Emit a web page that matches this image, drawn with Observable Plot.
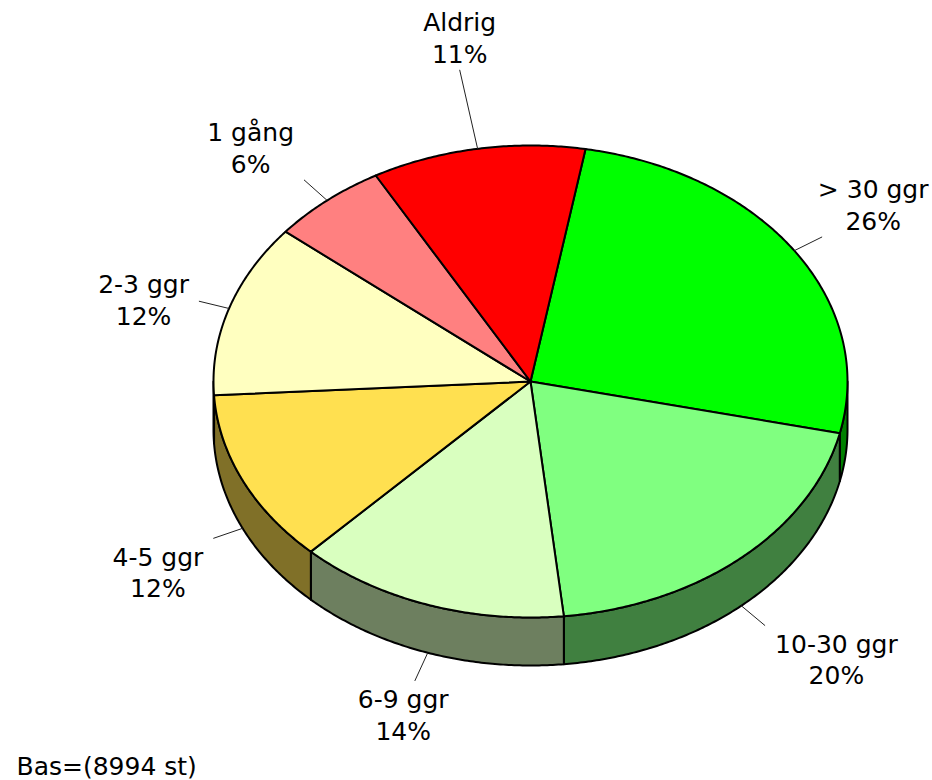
<!DOCTYPE html>
<html>
<head>
<meta charset="utf-8">
<script src="https://cdn.jsdelivr.net/npm/d3@7"></script>
<script src="https://cdn.jsdelivr.net/npm/@observablehq/plot@0.6"></script>
<style>
  html, body { margin: 0; padding: 0; background: #fff; }
  #chart svg { display: block; }
</style>
</head>
<body>
<div id="chart"></div>
<script>
// ---- Data ----
const categories = ["> 30 ggr", "10-30 ggr", "6-9 ggr", "4-5 ggr", "2-3 ggr", "1 gång", "Aldrig"];
const percents   = [26, 20, 14, 12, 12, 6, 11];
const topColors  = ["#00FF00", "#80FF80", "#D9FFBF", "#FFE050", "#FFFFC0", "#FF8080", "#FF0000"];
const sideColors = ["#008000", "#408040", "#6D7F5F", "#807028", "#80805F", "#804040", "#800000"];
const baseNote   = "Bas=(8994 st)";

// ---- Layout ----
const W = 932, H = 780;
const CX = 530, CY = 381, RX = 317, RY = 236, DEPTH = 48;
const START_DEG = 10;
const FONT = "DejaVu Sans", FS = 25, LINE_H = 1.26;
const LEADER = 31;
const leaderOverride = {"Aldrig": 81};

const rad = Math.PI / 180;
const pie = d3.pie().sort(null).value(d => d.value)
  .startAngle(START_DEG * rad).endAngle((START_DEG + 360) * rad);
const slices = pie(categories.map((c, i) => ({cat: c, value: percents[i], i})));

const pt = (a, dz = 0) => ({x: CX + RX * Math.sin(a), y: CY - RY * Math.cos(a) + dz});
function arcAngles(a0, a1) {
  const n = Math.max(2, Math.ceil((a1 - a0) / (0.5 * rad)));
  return d3.range(n + 1).map(k => a0 + (a1 - a0) * k / n);
}

// top faces
const tops = [];
slices.forEach(s => {
  const id = s.data.cat, fill = topColors[s.data.i];
  tops.push({x: CX, y: CY, id, fill});
  arcAngles(s.startAngle, s.endAngle).forEach(a => tops.push({...pt(a), id, fill}));
});

// visible side walls (front half of the ellipse)
const sides = [];
slices.forEach(s => {
  const a0 = Math.max(s.startAngle, Math.PI / 2), a1 = Math.min(s.endAngle, 3 * Math.PI / 2);
  if (a1 <= a0) return;
  const id = s.data.cat, fill = sideColors[s.data.i];
  const angs = arcAngles(a0, a1);
  angs.forEach(a => sides.push({...pt(a), id, fill}));
  angs.slice().reverse().forEach(a => sides.push({...pt(a, DEPTH), id, fill}));
});

// labels with leader lines
const ctx = document.createElement("canvas").getContext("2d");
ctx.font = `${FS}px "${FONT}"`;
const smooth = (e0, e1, t) => { const u = Math.min(1, Math.max(0, (t - e0) / (e1 - e0))); return u * u * (3 - 2 * u); };
const labels = slices.map(s => {
  const a = (s.startAngle + s.endAngle) / 2;
  const lower = Math.cos(a) < 0;
  const e = pt(a, lower ? DEPTH : 0);
  let dx = RX * Math.sin(a), dy = -RY * Math.cos(a);
  const len = Math.hypot(dx, dy); dx /= len; dy /= len;
  const L = leaderOverride[s.data.cat] ?? LEADER;
  const lx = e.x + L * dx, ly = e.y + L * dy;
  const lines = [s.data.cat, s.data.value + "%"];
  const wMax = Math.max(...lines.map(t => ctx.measureText(t).width));
  const halfW = wMax / 2 + 10, halfH = 33;
  let tx = lx + Math.sign(dx) * halfW * smooth(0.3, 0.7, Math.abs(dx));
  tx = Math.max(wMax / 2 + 4, Math.min(W - wMax / 2 - 4, tx));
  const ty = ly + Math.sign(dy) * halfH * smooth(0.22, 0.32, Math.abs(dy));
  return {ex: e.x, ey: e.y, lx, ly, tx, ty, text: lines.join("\n")};
});

const chart = Plot.plot({
  width: W, height: H,
  margin: 0,
  x: {domain: [0, W], range: [0, W], axis: null},
  y: {domain: [0, H], range: [0, H], axis: null},
  color: {type: "identity"},
  marks: [
    Plot.line(sides, {x: "x", y: "y", z: "id", fill: "fill", stroke: "black", strokeWidth: 2,
      curve: "linear-closed", strokeLinejoin: "round"}),
    Plot.line(tops, {x: "x", y: "y", z: "id", fill: "fill", stroke: "black", strokeWidth: 2,
      curve: "linear-closed", strokeLinejoin: "round"}),
    Plot.link(labels, {x1: "ex", y1: "ey", x2: "lx", y2: "ly", stroke: "#222", strokeWidth: 1}),
    Plot.text(labels, {x: "tx", y: "ty", text: "text", fontSize: FS, fontFamily: FONT,
      lineHeight: LINE_H, lineAnchor: "middle", textAnchor: "middle", fill: "black"}),
    Plot.text([baseNote], {frameAnchor: "bottom-left", text: d => d, dx: 16, dy: -6,
      textAnchor: "start", lineAnchor: "bottom", fontSize: FS, fontFamily: FONT, fill: "black"})
  ]
});
document.getElementById("chart").appendChild(chart);
</script>
</body>
</html>
